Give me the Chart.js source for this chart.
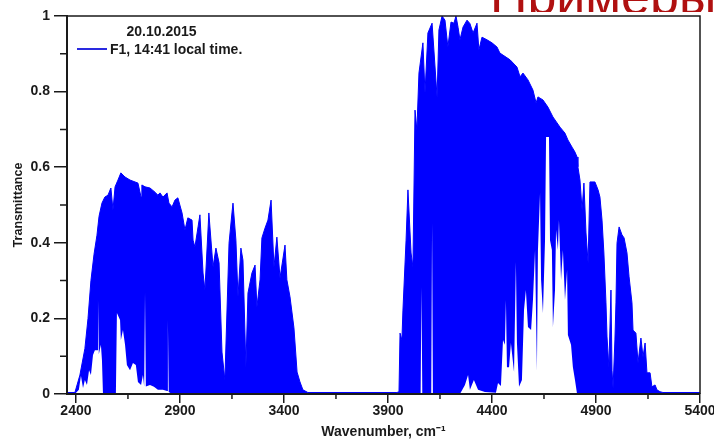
<!DOCTYPE html>
<html><head><meta charset="utf-8">
<script src="https://cdn.jsdelivr.net/npm/chart.js@4.4.0/dist/chart.umd.min.js"></script>
<style>
html,body{margin:0;padding:0;background:#fff;}
#wrap{position:relative;width:714px;height:441px;overflow:hidden;background:#fff;}
#c{position:absolute;left:0;top:0;}
#hdr{position:absolute;left:488px;top:0;width:226px;height:12px;overflow:hidden;}
#hdr span{position:absolute;left:2px;top:-30px;font-size:52px;line-height:52px;font-family:"Liberation Sans",Arial,sans-serif;color:#b01010;white-space:nowrap;}
</style></head><body>
<div id="wrap"><canvas id="c" width="714" height="441"></canvas><div id="hdr"><span>Примеры</span></div></div>
<script>
// ---- data ----
const legendTitle = '20.10.2015';
const seriesName = 'F1, 14:41 local time.';
const xTicks = [2400, 2900, 3400, 3900, 4400, 4900, 5400];
const xMinor = [2650, 3150, 3650, 4150, 4650, 5150];
const yTicks = [0, 0.2, 0.4, 0.6, 0.8, 1];
const yMinor = [0.1, 0.3, 0.5, 0.7, 0.9];

// upper envelope of the transmittance spectrum
const hiWn = [2357,2395,2419,2443,2458,2472,2487,2501,2511,2525,2539,2554,2568,2578,2588,2602,2616,2636,2660,2684,2698,2713,2717,2732,2756,2780,2794,2804,2818,2838,2847,2862,2876,2890,2910,2924,2938,2958,2963,2972,2987,2996,3011,3020,3039,3059,3073,3088,3102,3116,3136,3150,3155,3169,3179,3193,3203,3217,3227,3246,3261,3270,3285,3294,3309,3323,3338,3352,3366,3381,3405,3414,3429,3448,3463,3477,3491,3515,
3943,3953,3958,3967,3972,3987,3996,4011,4020,4030,4039,4049,4068,4078,4092,4112,4116,4136,4145,4160,4174,4188,4203,4217,4227,4237,4246,4261,4280,4294,4309,4328,4337,4352,4376,4400,4424,4438,4487,4520,4535,4549,4573,4597,4612,4621,4645,4669,4693,4727,4751,4765,4785,4799,4809,4813,4823,4833,4842,4852,4862,4871,4895,4910,4919,4929,4938,4948,4953,4962,4972,4977,4982,4991,4996,5001,5011,5025,5035,5049,5059,5073,5078,5092,5102,5116,5126,5136,5145,5160,5169,5184,5193,5208,5222,5400];
const hiVal = [0.004,0.004,0.05,0.12,0.2,0.3,0.37,0.42,0.47,0.505,0.521,0.526,0.545,0.487,0.548,0.566,0.585,0.574,0.566,0.561,0.558,0.521,0.553,0.548,0.545,0.534,0.526,0.532,0.521,0.532,0.505,0.495,0.513,0.519,0.479,0.434,0.466,0.460,0.407,0.389,0.442,0.474,0.320,0.275,0.479,0.336,0.386,0.347,0.111,0.037,0.399,0.479,0.505,0.407,0.257,0.386,0.354,0.071,0.267,0.320,0.341,0.230,0.302,0.413,0.439,0.460,0.513,0.336,0.415,0.307,0.394,0.302,0.257,0.175,0.058,0.032,0.011,0.004,
0.004,0.006,0.161,0.143,0.222,0.407,0.540,0.373,0.336,0.751,0.698,0.849,0.929,0.796,0.955,0.981,0.981,0.786,0.963,1.0,0.989,0.918,0.984,0.981,1.0,0.970,0.937,0.971,0.989,0.980,0.955,0.981,0.910,0.944,0.937,0.929,0.918,0.902,0.884,0.865,0.839,0.849,0.831,0.804,0.770,0.786,0.778,0.759,0.733,0.706,0.690,0.672,0.653,0.640,0.627,0.601,0.566,0.487,0.558,0.426,0.347,0.561,0.561,0.540,0.521,0.460,0.373,0.241,0.151,0.071,0.275,0.063,0.016,0.143,0.241,0.399,0.442,0.421,0.413,0.373,0.310,0.241,0.169,0.161,0.082,0.148,0.098,0.135,0.056,0.056,0.019,0.024,0.011,0.006,0.004,0.004];

// lower envelope: white gaps rising from the baseline
const loWn = [2357,2395,2414,2424,2434,2443,2453,2463,2472,2482,2491,2502,2506,2510,2520,2525,2530,2592,2597,2612,2616,2626,2636,2645,2660,2674,2688,2698,2713,2722,2728,2732,2736,2756,2775,2794,2818,2838,2842,2846,2862,
4057,4061,4065,4108,4112,4116,4246,4270,4285,4294,4313,4333,4366,4419,4429,4443,4453,4462,4467,4472,4482,4491,4506,4515,4520,4530,4544,4554,4563,4573,4588,4597,4607,4616,4621,4631,4636,4645,4655,4660,4674,4679,4688,4693,4703,4708,4717,4722,4732,4741,4751,4761,4765,4780,4789,4799,4809,5400];
const loVal = [0,0,0.011,0.048,0.016,0.037,0.024,0.063,0.050,0.103,0.116,0.116,0.249,0.105,0.130,0.090,0,0,0.214,0.196,0.143,0.169,0.130,0.077,0.063,0.082,0.077,0.032,0.024,0.050,0.02,0.267,0.02,0.024,0.019,0.011,0.011,0.008,0.196,0.005,0,
0,0.283,0,0,0.452,0,0,0.024,0.050,0.011,0.037,0.011,0.005,0.003,0.029,0.021,0.143,0.130,0.249,0.071,0.071,0.135,0.058,0.349,0.135,0.019,0.037,0.222,0.275,0.177,0.169,0.249,0.381,0.063,0.381,0.532,0.302,0.214,0.407,0.680,0.680,0.407,0.381,0.177,0.275,0.434,0.381,0.460,0.302,0.381,0.249,0.328,0.156,0.130,0.071,0.037,0,0];

// ---- drawing ----
const BLUE = '#0000ff';
const INK = '#1a1a1a';
const FONT = '"Liberation Sans", Arial, sans-serif';
const hiPts = hiWn.map((x, i) => ({x: x, y: hiVal[i]}));
const loPts = loWn.map((x, i) => ({x: x, y: loVal[i]}));

const framePlugin = {
  id: 'frame',
  afterDatasetsDraw(chart) {
    const {ctx, chartArea: a, scales: {x, y}} = chart;
    ctx.save();
    ctx.strokeStyle = INK;
    ctx.lineWidth = 1.5;
    ctx.beginPath();
    ctx.moveTo(a.left, a.top); ctx.lineTo(a.right, a.top); ctx.lineTo(a.right, a.bottom);
    ctx.stroke();
    ctx.beginPath();
    xMinor.forEach(v => { const p = x.getPixelForValue(v); ctx.moveTo(p, a.bottom); ctx.lineTo(p, a.bottom + 5); });
    yMinor.forEach(v => { const p = y.getPixelForValue(v); ctx.moveTo(a.left, p); ctx.lineTo(a.left - 7, p); });
    ctx.stroke();
    // legend inside the plot
    ctx.fillStyle = INK;
    ctx.font = 'bold 14px ' + FONT;
    ctx.textBaseline = 'alphabetic';
    ctx.textAlign = 'center';
    ctx.fillText(legendTitle, a.left + 94.5, a.top + 20);
    ctx.strokeStyle = '#2a2ae0';
    ctx.lineWidth = 2;
    ctx.beginPath(); ctx.moveTo(a.left + 10, a.top + 33); ctx.lineTo(a.left + 40, a.top + 33); ctx.stroke();
    ctx.textAlign = 'left';
    ctx.fillText(seriesName, a.left + 43, a.top + 37.5);
    ctx.restore();
  }
};

new Chart(document.getElementById('c'), {
  type: 'line',
  data: {datasets: [
    // drawn last (on top): white gaps from the baseline
    {label: 'gaps', data: loPts, borderColor: 'rgba(0,0,0,0)', backgroundColor: '#ffffff', borderWidth: 0, pointRadius: 0, tension: 0, fill: 'origin'},
    {label: seriesName, data: hiPts, borderColor: BLUE, backgroundColor: BLUE, borderWidth: 1, pointRadius: 0, tension: 0, fill: 'origin'}
  ]},
  options: {
    responsive: false, animation: false, events: [],
    layout: {padding: {top: 16, right: 14, left: 0, bottom: 0}},
    plugins: {legend: {display: false}, tooltip: {enabled: false}},
    scales: {
      x: {
        type: 'linear', min: 2357, max: 5400,
        afterBuildTicks: s => { s.ticks = xTicks.map(v => ({value: v})); },
        afterFit: s => { s.height = 47; s.paddingLeft = 0; s.paddingRight = 0; },
        ticks: {callback: v => String(v), font: {family: FONT, size: 14, weight: 'bold'}, color: INK, padding: 0, maxRotation: 0, autoSkip: false},
        grid: {drawOnChartArea: false, drawTicks: true, tickLength: 9, color: INK, lineWidth: 1.5},
        border: {display: true, color: INK, width: 2, z: 1},
        title: {display: true, text: 'Wavenumber, cm⁻¹', font: {family: FONT, size: 14, weight: 'bold'}, color: INK, padding: {top: 0, bottom: 0}}
      },
      y: {
        type: 'linear', min: 0, max: 1,
        afterBuildTicks: s => { s.ticks = yTicks.map(v => ({value: v})); },
        afterFit: s => { s.width = 67; },
        ticks: {callback: v => String(v), font: {family: FONT, size: 14, weight: 'bold'}, color: INK, padding: 4},
        grid: {drawOnChartArea: false, drawTicks: true, tickLength: 13, color: INK, lineWidth: 1.5},
        border: {display: true, color: INK, width: 2, z: 1},
        title: {display: true, text: 'Transmittance', font: {family: FONT, size: 12.5, weight: 'bold'}, color: INK, padding: {top: 11, bottom: 0}}
      }
    }
  },
  plugins: [framePlugin]
});
</script>
</body></html>
